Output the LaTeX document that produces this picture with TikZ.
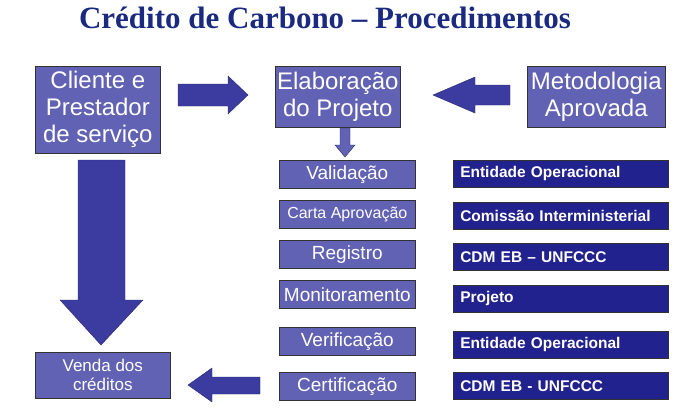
\documentclass[tikz,border=0pt]{standalone}
\usepackage{fontspec}
\setmainfont{Liberation Serif}
\setsansfont{Liberation Sans}
\definecolor{boxc}{HTML}{6262B4}
\definecolor{navy}{HTML}{22228E}
\definecolor{arr}{HTML}{3C3CA0}
\definecolor{ttl}{HTML}{1A2A80}
\begin{document}
\begin{tikzpicture}[x=1pt,y=-1pt,
 lb/.style={draw=black!80,line width=0.6pt,fill=boxc,text=white,font=\sffamily,align=center,inner sep=0pt,anchor=north west},
 rb/.style={draw=black!80,line width=0.5pt,fill=navy,text=white,font=\sffamily\bfseries\fontsize{15.5}{17}\selectfont,inner sep=0pt,anchor=north west},
 ba/.style={fill=arr,draw=arr!70!black,line width=0.4pt}]
\useasboundingbox (0,0) rectangle (686,418);
\fill[white] (0,0) rectangle (686,418);
\node[text=ttl,font=\bfseries\fontsize{31}{34}\selectfont] (title) at (325,18) {Crédito de Carbono -- Procedimentos};
\node[lb,minimum width=125pt,minimum height=87pt,font=\sffamily\fontsize{24}{27}\selectfont] (cli) at (35,66) {Cliente e\\Prestador\\de serviço};
\node[lb,minimum width=125pt,minimum height=61pt,font=\sffamily\fontsize{24}{27}\selectfont] (ela) at (275,66) {Elaboração\\do Projeto};
\node[lb,minimum width=138pt,minimum height=61pt,font=\sffamily\fontsize{24}{27}\selectfont] (met) at (527,66) {Metodologia\\Aprovada};
\foreach \n/\t/\y/\f in {val/Validação/160/19, car/Carta Aprovação/200/16, reg/Registro/240/19, mon/Monitoramento/280/19, ver/Verificação/327/19, cer/Certificação/372/19}
  \node[lb,minimum width=136pt,minimum height=28pt,font=\sffamily\fontsize{\f}{20}\selectfont] (\n) at (279,\y) {\t};
\foreach \n/\t/\y in {r1/Entidade Operacional/160, r2/Comissão Interministerial/202, r3/CDM EB -- UNFCCC/243, r4/Projeto/285, r5/Entidade Operacional/331, r6/CDM EB - UNFCCC/372}
  \node[rb,minimum width=215pt,minimum height=27pt,text width=201pt,align=left] (\n) at (453,\y) {\t};
\node[lb,minimum width=135pt,minimum height=46pt,font=\sffamily\fontsize{17}{19}\selectfont] (ven) at (35,352) {Venda dos\\créditos};
% block arrows
\draw[ba] (178,84) -- (228,84) -- (228,76) -- (248,95) -- (228,114) -- (228,106) -- (178,106) -- cycle;
\draw[ba] (510,85) -- (475,85) -- (475,77) -- (433,95) -- (475,113) -- (475,105) -- (510,105) -- cycle;
\draw[ba,fill=boxc] (340,128) -- (350,128) -- (350,145) -- (355,145) -- (345,157) -- (335,145) -- (340,145) -- cycle;
\draw[ba] (78,160) -- (125,160) -- (125,300) -- (143,300) -- (101,345) -- (60,300) -- (78,300) -- cycle;
\draw[ba] (260,377) -- (212,377) -- (212,368) -- (188,385) -- (212,402) -- (212,394) -- (260,394) -- cycle;
\end{tikzpicture}
\end{document}
